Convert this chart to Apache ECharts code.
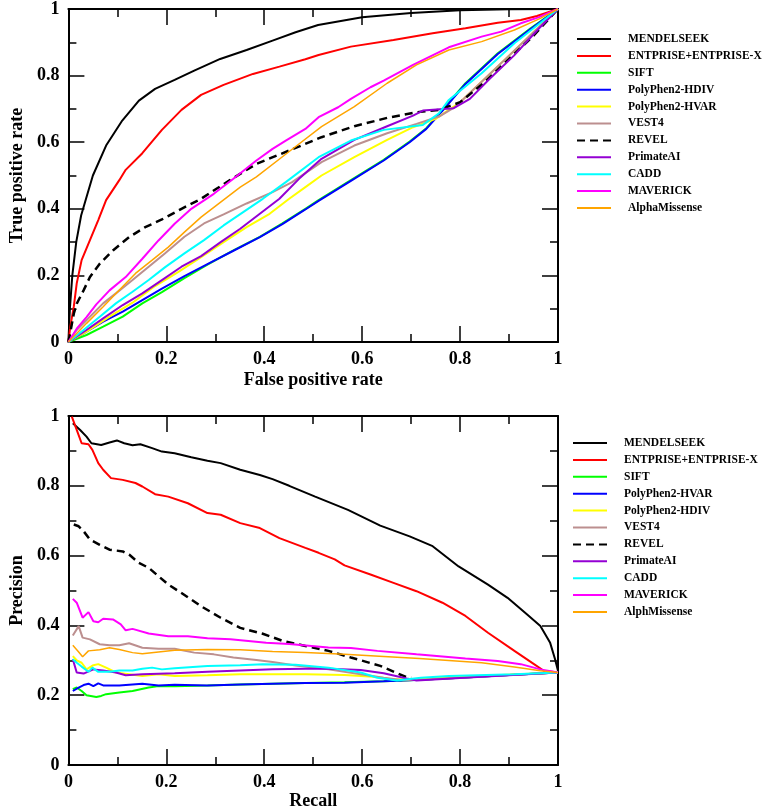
<!DOCTYPE html>
<html>
<head>
<meta charset="utf-8">
<script src="https://cdn.jsdelivr.net/npm/echarts@6/dist/echarts.min.js"></script>
<style>html,body{margin:0;padding:0;background:#fff}#c{width:764px;height:811px}</style>
</head>
<body>
<div id="c"></div>
<script>
// ---------- ROC data (FPR, TPR) ----------
const rocNames = ['MENDELSEEK','ENTPRISE+ENTPRISE-X','SIFT','PolyPhen2-HDIV','PolyPhen2-HVAR','VEST4','REVEL','PrimateAI','CADD','MAVERICK','AlphaMissense'];
const rocColors = ['#000000','#ff0000','#00ff00','#0000ff','#ffff00','#bc8f8f','#000000','#9400d3','#00ffff','#ff00ff','#ffa500'];

const rocMendelseek = [[0,0],[0.003,0.1],[0.008,0.2],[0.016,0.3],[0.026,0.38],[0.036,0.43],[0.05,0.5],[0.077,0.59],[0.11,0.665],[0.144,0.725],[0.177,0.76],[0.217,0.787],[0.257,0.815],[0.31,0.85],[0.364,0.877],[0.417,0.905],[0.464,0.93],[0.51,0.952],[0.6,0.975],[0.7,0.988],[0.8,0.996],[0.9,0.999],[1,1]];
const rocEntprise = [[0,0],[0.004,0.047],[0.011,0.106],[0.017,0.176],[0.027,0.246],[0.044,0.306],[0.061,0.366],[0.077,0.426],[0.104,0.486],[0.117,0.517],[0.151,0.567],[0.191,0.637],[0.231,0.697],[0.271,0.742],[0.317,0.772],[0.377,0.805],[0.431,0.827],[0.484,0.849],[0.511,0.862],[0.577,0.887],[0.664,0.907],[0.744,0.927],[0.811,0.942],[0.877,0.959],[0.924,0.967],[0.957,0.979],[1,1]];
const rocSift = [[0,0],[0.037,0.021],[0.071,0.046],[0.111,0.076],[0.151,0.116],[0.191,0.15],[0.237,0.192],[0.284,0.232],[0.337,0.275],[0.391,0.316],[0.437,0.356],[0.484,0.4],[0.511,0.426],[0.577,0.486],[0.644,0.547],[0.697,0.602],[0.731,0.642],[0.764,0.697],[0.811,0.777],[0.877,0.867],[0.944,0.942],[1,1]];
const rocHdiv = [[0,0],[0.031,0.026],[0.071,0.061],[0.111,0.091],[0.151,0.126],[0.191,0.16],[0.237,0.198],[0.284,0.234],[0.337,0.274],[0.391,0.315],[0.437,0.354],[0.484,0.398],[0.511,0.424],[0.577,0.484],[0.644,0.545],[0.697,0.6],[0.731,0.64],[0.764,0.694],[0.811,0.775],[0.877,0.865],[0.944,0.94],[1,1]];
const rocHvar = [[0,0],[0.037,0.031],[0.084,0.076],[0.131,0.118],[0.177,0.168],[0.224,0.21],[0.271,0.255],[0.317,0.3],[0.364,0.345],[0.411,0.385],[0.451,0.43],[0.484,0.465],[0.517,0.5],[0.584,0.555],[0.651,0.607],[0.704,0.645],[0.75,0.67],[0.8,0.72],[0.85,0.79],[0.9,0.86],[0.95,0.93],[1,1]];
const rocVest4 = [[0,0],[0.017,0.036],[0.044,0.076],[0.071,0.116],[0.097,0.146],[0.131,0.186],[0.164,0.226],[0.197,0.266],[0.237,0.316],[0.277,0.356],[0.317,0.383],[0.364,0.416],[0.417,0.45],[0.457,0.48],[0.517,0.54],[0.584,0.59],[0.651,0.627],[0.711,0.655],[0.757,0.677],[0.791,0.707],[0.85,0.79],[0.9,0.86],[0.95,0.93],[1,1]];
const rocRevel = [[0,0],[0.004,0.03],[0.011,0.085],[0.017,0.115],[0.031,0.155],[0.044,0.195],[0.064,0.235],[0.091,0.275],[0.124,0.315],[0.157,0.345],[0.191,0.368],[0.231,0.4],[0.271,0.43],[0.3,0.458],[0.33,0.486],[0.384,0.535],[0.451,0.575],[0.517,0.615],[0.584,0.648],[0.651,0.673],[0.711,0.69],[0.757,0.697],[0.8,0.72],[0.85,0.78],[0.9,0.85],[0.95,0.92],[1,1]];
const rocPrimate = [[0,0],[0.037,0.036],[0.071,0.071],[0.111,0.111],[0.151,0.146],[0.191,0.186],[0.231,0.226],[0.271,0.258],[0.311,0.3],[0.351,0.34],[0.391,0.385],[0.431,0.43],[0.471,0.49],[0.517,0.55],[0.584,0.607],[0.651,0.648],[0.704,0.68],[0.724,0.695],[0.787,0.702],[0.82,0.73],[0.86,0.79],[0.91,0.86],[0.96,0.94],[1,1]];
const rocCadd = [[0,0],[0.031,0.036],[0.064,0.076],[0.097,0.116],[0.131,0.151],[0.164,0.186],[0.197,0.224],[0.237,0.266],[0.277,0.306],[0.317,0.35],[0.357,0.39],[0.397,0.43],[0.444,0.48],[0.511,0.555],[0.577,0.605],[0.644,0.637],[0.724,0.652],[0.757,0.687],[0.777,0.727],[0.844,0.807],[0.911,0.897],[1,1]];
const rocMaverick = [[0,0],[0.017,0.04],[0.037,0.075],[0.057,0.113],[0.084,0.155],[0.117,0.195],[0.151,0.25],[0.184,0.305],[0.217,0.355],[0.251,0.4],[0.297,0.445],[0.337,0.49],[0.384,0.545],[0.417,0.58],[0.444,0.605],[0.484,0.64],[0.511,0.675],[0.551,0.705],[0.577,0.73],[0.617,0.765],[0.644,0.785],[0.704,0.832],[0.777,0.885],[0.844,0.917],[0.884,0.932],[0.924,0.957],[0.96,0.975],[1,1]];
const rocAlpha = [[0,0],[0.037,0.056],[0.071,0.106],[0.104,0.156],[0.137,0.206],[0.171,0.246],[0.204,0.285],[0.237,0.33],[0.271,0.375],[0.311,0.42],[0.351,0.465],[0.384,0.496],[0.451,0.572],[0.517,0.647],[0.584,0.707],[0.651,0.777],[0.711,0.832],[0.777,0.877],[0.844,0.902],[0.911,0.937],[0.964,0.972],[1,1]];
const rocData = [rocMendelseek,rocEntprise,rocSift,rocHdiv,rocHvar,rocVest4,rocRevel,rocPrimate,rocCadd,rocMaverick,rocAlpha];

// ---------- PR data (Recall, Precision) ----------
const prNames = ['MENDELSEEK','ENTPRISE+ENTPRISE-X','SIFT','PolyPhen2-HVAR','PolyPhen2-HDIV','VEST4','REVEL','PrimateAI','CADD','MAVERICK','AlphMissense'];
const prColors = ['#000000','#ff0000','#00ff00','#0000ff','#ffff00','#bc8f8f','#000000','#9400d3','#00ffff','#ff00ff','#ffa500'];

const prMendelseek = [[0.009,0.979],[0.024,0.96],[0.037,0.941],[0.047,0.922],[0.067,0.917],[0.084,0.924],[0.099,0.93],[0.114,0.922],[0.131,0.916],[0.147,0.919],[0.171,0.908],[0.191,0.898],[0.217,0.893],[0.251,0.882],[0.284,0.872],[0.311,0.865],[0.351,0.846],[0.391,0.831],[0.417,0.819],[0.451,0.8],[0.504,0.769],[0.571,0.731],[0.637,0.686],[0.697,0.655],[0.744,0.627],[0.797,0.569],[0.857,0.517],[0.897,0.479],[0.937,0.431],[0.964,0.398],[0.984,0.35],[0.994,0.303],[1,0.27]];
const prEntprise = [[0.007,0.998],[0.017,0.96],[0.027,0.922],[0.041,0.919],[0.049,0.903],[0.061,0.865],[0.071,0.846],[0.087,0.822],[0.111,0.817],[0.137,0.808],[0.151,0.798],[0.177,0.776],[0.204,0.769],[0.244,0.75],[0.284,0.722],[0.311,0.717],[0.351,0.693],[0.391,0.679],[0.431,0.65],[0.484,0.622],[0.511,0.608],[0.544,0.589],[0.564,0.572],[0.617,0.546],[0.664,0.522],[0.711,0.498],[0.764,0.465],[0.811,0.427],[0.857,0.379],[0.911,0.327],[0.951,0.289],[0.971,0.27],[1,0.265]];
const prSift = [[0.009,0.217],[0.017,0.222],[0.027,0.212],[0.037,0.2],[0.057,0.195],[0.067,0.198],[0.077,0.203],[0.104,0.208],[0.131,0.212],[0.164,0.222],[0.184,0.226],[0.217,0.226],[0.284,0.228],[0.351,0.231],[0.417,0.233],[0.484,0.235],[0.564,0.237],[0.644,0.24],[0.697,0.243],[0.8,0.25],[0.9,0.258],[1,0.265]];
const prHvar = [[0.009,0.212],[0.021,0.222],[0.031,0.229],[0.041,0.233],[0.051,0.226],[0.061,0.234],[0.071,0.228],[0.104,0.228],[0.151,0.233],[0.184,0.228],[0.217,0.23],[0.284,0.228],[0.351,0.231],[0.417,0.233],[0.484,0.235],[0.564,0.236],[0.644,0.24],[0.697,0.243],[0.8,0.25],[0.9,0.258],[1,0.265]];
const prHdiv = [[0.009,0.312],[0.017,0.3],[0.027,0.293],[0.037,0.274],[0.051,0.286],[0.061,0.289],[0.077,0.279],[0.097,0.265],[0.124,0.26],[0.151,0.255],[0.184,0.26],[0.217,0.255],[0.284,0.257],[0.351,0.26],[0.431,0.26],[0.484,0.26],[0.564,0.258],[0.631,0.252],[0.664,0.245],[0.72,0.247],[0.85,0.256],[1,0.265]];
const prVest4 = [[0.009,0.371],[0.021,0.398],[0.029,0.365],[0.044,0.36],[0.064,0.346],[0.084,0.343],[0.104,0.343],[0.124,0.349],[0.151,0.336],[0.184,0.333],[0.217,0.333],[0.257,0.322],[0.297,0.317],[0.337,0.308],[0.384,0.301],[0.417,0.295],[0.464,0.285],[0.531,0.274],[0.597,0.26],[0.644,0.25],[0.684,0.243],[0.72,0.244],[0.8,0.25],[0.9,0.258],[1,0.265]];
const prRevel = [[0.011,0.689],[0.021,0.684],[0.031,0.67],[0.044,0.646],[0.064,0.631],[0.084,0.617],[0.111,0.612],[0.124,0.603],[0.144,0.579],[0.164,0.565],[0.184,0.541],[0.204,0.517],[0.231,0.493],[0.271,0.455],[0.311,0.422],[0.351,0.393],[0.397,0.376],[0.437,0.356],[0.484,0.341],[0.531,0.327],[0.577,0.308],[0.637,0.284],[0.69,0.252],[0.7,0.25]];
const prPrimate = [[0.009,0.303],[0.017,0.265],[0.031,0.262],[0.051,0.274],[0.071,0.271],[0.097,0.265],[0.117,0.257],[0.151,0.26],[0.217,0.263],[0.284,0.267],[0.351,0.271],[0.417,0.274],[0.484,0.276],[0.531,0.276],[0.597,0.272],[0.644,0.263],[0.691,0.248],[0.711,0.242],[0.844,0.253],[1,0.265]];
const prCadd = [[0.009,0.303],[0.017,0.293],[0.027,0.282],[0.041,0.267],[0.049,0.279],[0.061,0.267],[0.084,0.267],[0.104,0.271],[0.131,0.271],[0.151,0.276],[0.171,0.279],[0.191,0.274],[0.217,0.277],[0.284,0.284],[0.351,0.286],[0.397,0.289],[0.464,0.287],[0.531,0.279],[0.597,0.265],[0.631,0.25],[0.671,0.242],[0.72,0.25],[0.777,0.255],[0.911,0.26],[1,0.265]];
const prMaverick = [[0.009,0.476],[0.017,0.465],[0.029,0.422],[0.041,0.438],[0.051,0.412],[0.061,0.409],[0.071,0.419],[0.091,0.417],[0.107,0.403],[0.117,0.386],[0.131,0.39],[0.164,0.377],[0.204,0.369],[0.244,0.369],[0.284,0.363],[0.331,0.36],[0.404,0.35],[0.451,0.347],[0.531,0.337],[0.577,0.335],[0.631,0.327],[0.711,0.317],[0.811,0.305],[0.877,0.298],[0.924,0.289],[0.964,0.274],[1,0.265]];
const prAlpha = [[0.009,0.343],[0.021,0.324],[0.029,0.31],[0.041,0.327],[0.064,0.33],[0.084,0.336],[0.104,0.331],[0.131,0.322],[0.151,0.319],[0.184,0.324],[0.217,0.329],[0.284,0.331],[0.351,0.33],[0.417,0.325],[0.484,0.322],[0.564,0.317],[0.644,0.311],[0.717,0.305],[0.844,0.293],[0.911,0.281],[0.964,0.27],[1,0.265]];
const prData = [prMendelseek,prEntprise,prSift,prHvar,prHdiv,prVest4,prRevel,prPrimate,prCadd,prMaverick,prAlpha];

const axisTicks = [0,0.2,0.4,0.6,0.8,1];

// ---------- build ----------
const FONT = '"Liberation Serif","DejaVu Serif",serif';
const PR_PREFIX = 'PR::';
function lineWidthFor(n){
  if (n === 'REVEL') return 2.5;
  if (n === 'AlphaMissense' || n === 'AlphMissense') return 1.5;
  return 2;
}
function mkSeries(names, colors, data, xi, yi, prefix){
  return names.map((n,i)=>({
    name: prefix + n,
    type:'line',
    xAxisIndex: xi, yAxisIndex: yi,
    data: data[i],
    showSymbol:false, symbol:'none', smooth:false,
    lineStyle:{color:colors[i], width: lineWidthFor(n), type: n==='REVEL'?[8,5]:'solid'},
    itemStyle:{color:colors[i]},
    z: 2 + i
  }));
}
function xAx(grid, pos, showLabels, name, gap){
  return {
    type:'value', gridIndex:grid, position:pos, min:0, max:1, interval:0.2,
    name: name||'', nameLocation:'middle', nameGap: gap||0,
    nameTextStyle:{fontFamily:FONT, fontWeight:'bold', fontSize:18, color:'#000'},
    axisLine:{show:true, onZero:false, lineStyle:{color:'#000', width:2}},
    axisTick:{show:true, inside:true, length:16, lineStyle:{color:'#000', width:1.5}},
    minorTick:{show:true, splitNumber:2, length:8, lineStyle:{color:'#000', width:1.5}},
    splitLine:{show:false},
    axisLabel:{show:showLabels, fontFamily:FONT, fontWeight:'bold', fontSize:18, color:'#000', margin:8}
  };
}
function yAx(grid, pos, showLabels, name, gap){
  const a = xAx(grid, pos, showLabels, name, gap);
  a.axisLabel.margin = 9;
  return a;
}
const legendBase = {
  orient:'vertical', itemWidth:34, itemHeight:14, itemGap:2.9, padding:0,
  itemStyle:{opacity:0, borderWidth:0},
  formatter: n => n.startsWith(PR_PREFIX) ? n.slice(PR_PREFIX.length) : n,
  textStyle:{fontFamily:FONT, fontWeight:'bold', fontSize:11.5, color:'#000', padding:[0,0,0,12], lineHeight:14}
};
const option = {
  animation:false,
  backgroundColor:'#fff',
  grid:[
    {left:58, top:9, width:500, height:333},
    {left:58, top:416, width:500, height:350}
  ],
  xAxis:[
    xAx(0,'bottom',true,'False positive rate',29),
    xAx(0,'top',false),
    xAx(1,'bottom',true,'Recall',27),
    xAx(1,'top',false)
  ],
  yAxis:[
    yAx(0,'left',true,'True positive rate',38),
    yAx(0,'right',false),
    yAx(1,'left',true,'Precision',38),
    yAx(1,'right',false)
  ],
  legend:[
    Object.assign({}, legendBase, {left:576, top:32, data: rocNames.slice()}),
    Object.assign({}, legendBase, {left:572, top:436, data: prNames.map(n=>PR_PREFIX+n)})
  ],
  series: [].concat(
    mkSeries(rocNames, rocColors, rocData, 0, 0, ''),
    mkSeries(prNames, prColors, prData, 2, 2, PR_PREFIX)
  )
};
const chart = echarts.init(document.getElementById('c'), null, {renderer:'canvas'});
chart.setOption(option);
</script>
</body>
</html>
